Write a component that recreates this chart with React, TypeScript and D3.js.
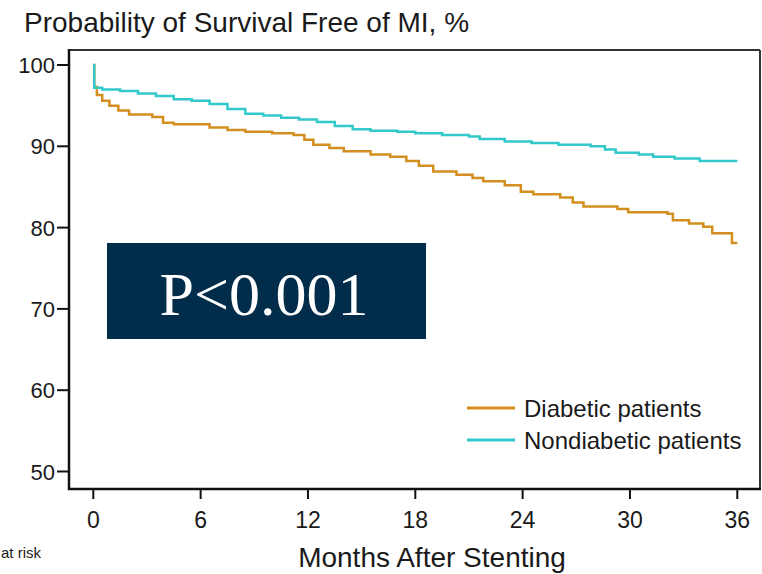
import React from "react";
import * as d3 from "d3";

const monthTicks = [0, 6, 12, 18, 24, 30, 36];
const pctTicks = [50, 60, 70, 80, 90, 100];

const seriesNames = ["Diabetic patients", "Nondiabetic patients"];
const seriesColors = ["#D38F1F", "#33C9CB"];

// [month, survival %]
const diabetic: [number, number][] = [
  [0, 100], [0.05, 97.3], [0.2, 96.3], [0.5, 95.6], [0.9, 95.0], [1.4, 94.4], [2.0, 93.9],
  [3.3, 93.6], [3.9, 92.9], [4.5, 92.7], [6.5, 92.3], [7.5, 92.0], [8.5, 91.8], [10.0, 91.6],
  [11.2, 91.4], [11.8, 90.8], [12.3, 90.2], [13.2, 89.8], [14.0, 89.4], [15.5, 89.0], [16.6, 88.7],
  [17.5, 88.2], [18.2, 87.6], [19.0, 86.9], [20.3, 86.5], [21.2, 86.1], [21.8, 85.7], [23.0, 85.2],
  [23.9, 84.4], [24.6, 84.1], [26.1, 83.7], [26.8, 83.1], [27.4, 82.6], [29.3, 82.3], [29.9, 81.9],
  [32.1, 81.7], [32.4, 80.9], [33.3, 80.5], [34.1, 80.1], [34.6, 79.3], [35.7, 78.1], [36, 78.1],
];

const nondiabetic: [number, number][] = [
  [0, 100], [0.05, 97.2], [0.5, 97.0], [1.5, 96.8], [2.5, 96.5], [3.5, 96.2], [4.5, 95.8],
  [5.5, 95.6], [6.5, 95.2], [7.5, 94.6], [8.5, 94.0], [9.5, 93.8], [10.5, 93.5], [11.5, 93.3],
  [12.5, 93.0], [13.5, 92.5], [14.5, 92.1], [15.5, 91.9], [17, 91.8], [18, 91.6], [19.5, 91.4],
  [21, 91.2], [21.6, 90.9], [23, 90.6], [24.5, 90.4], [26, 90.2], [27.8, 90.0], [28.6, 89.6],
  [29.2, 89.2], [30.5, 89.0], [31.3, 88.7], [32.5, 88.5], [33.9, 88.2], [36, 88.2],
];

const titleText = "Probability of Survival Free of MI, %";
const xTitleText = "Months After Stenting";
const pText = "P<0.001";
const riskText = "at risk";

export default function App() {
  const W = 762, H = 574;
  const L = 69, R = 760, T = 50, B = 489;
  const x = d3.scaleLinear().domain([0, 36]).range([93.3, 737.3]);
  const y = d3.scaleLinear().domain([50, 100]).range([471.5, 65]);
  const line = d3
    .line<[number, number]>()
    .x((d) => x(d[0]))
    .y((d) => y(d[1]))
    .curve(d3.curveStepAfter);
  const series = [diabetic, nondiabetic];
  const font = "'Liberation Sans', Arial, Helvetica, sans-serif";

  return (
    <svg width={W} height={H} style={{ position: "absolute", left: 0, top: 0, background: "#fff" }}>
      <rect x={0} y={0} width={W} height={H} fill="#fff" />
      <text x={24} y={32} fontFamily={font} fontSize={28} fill="#1a1a1a">
        {titleText}
      </text>
      {/* frame */}
      <line x1={L} x2={R} y1={T} y2={T} stroke="#333" strokeWidth={2} />
      <line x1={R} x2={R} y1={T} y2={B} stroke="#333" strokeWidth={2} />
      <line x1={L} x2={L} y1={T - 1} y2={B + 1} stroke="#111" strokeWidth={2.5} />
      <line x1={L - 1} x2={R + 1} y1={B} y2={B} stroke="#111" strokeWidth={2.5} />
      {/* y ticks */}
      {pctTicks.map((t) => (
        <g key={t}>
          <line x1={L - 12} x2={L} y1={y(t)} y2={y(t)} stroke="#111" strokeWidth={2} />
          <text x={L - 14} y={y(t) + 8} textAnchor="end" fontFamily={font} fontSize={22} fill="#1a1a1a">
            {t}
          </text>
        </g>
      ))}
      {/* x ticks */}
      {monthTicks.map((t) => (
        <g key={t}>
          <line x1={x(t)} x2={x(t)} y1={B} y2={B + 10} stroke="#111" strokeWidth={2} />
          <text x={x(t)} y={528} textAnchor="middle" fontFamily={font} fontSize={23} fill="#1a1a1a">
            {t}
          </text>
        </g>
      ))}
      <text x={432} y={567} textAnchor="middle" fontFamily={font} fontSize={28} fill="#1a1a1a">
        {xTitleText}
      </text>
      <text x={1} y={558} fontFamily={font} fontSize={15} fill="#1a1a1a">
        {riskText}
      </text>
      {/* curves */}
      {series.map((s, i) => (
        <path key={i} d={line(s) || ""} fill="none" stroke={seriesColors[i]} strokeWidth={2.5} />
      ))}
      {/* legend */}
      {seriesNames.map((n, i) => (
        <g key={n}>
          <line x1={467} x2={515} y1={408 + i * 32} y2={408 + i * 32} stroke={seriesColors[i]} strokeWidth={3} />
          <text x={524} y={417 + i * 32} fontFamily={font} fontSize={24} fill="#1a1a1a">
            {n}
          </text>
        </g>
      ))}
      {/* p value box */}
      <rect x={107} y={243} width={319} height={96} fill="#022D4A" />
      <text x={264} y={315} textAnchor="middle" fontFamily="'Liberation Serif', 'Times New Roman', serif" fontSize={62} fill="#fff">
        {pText}
      </text>
    </svg>
  );
}
